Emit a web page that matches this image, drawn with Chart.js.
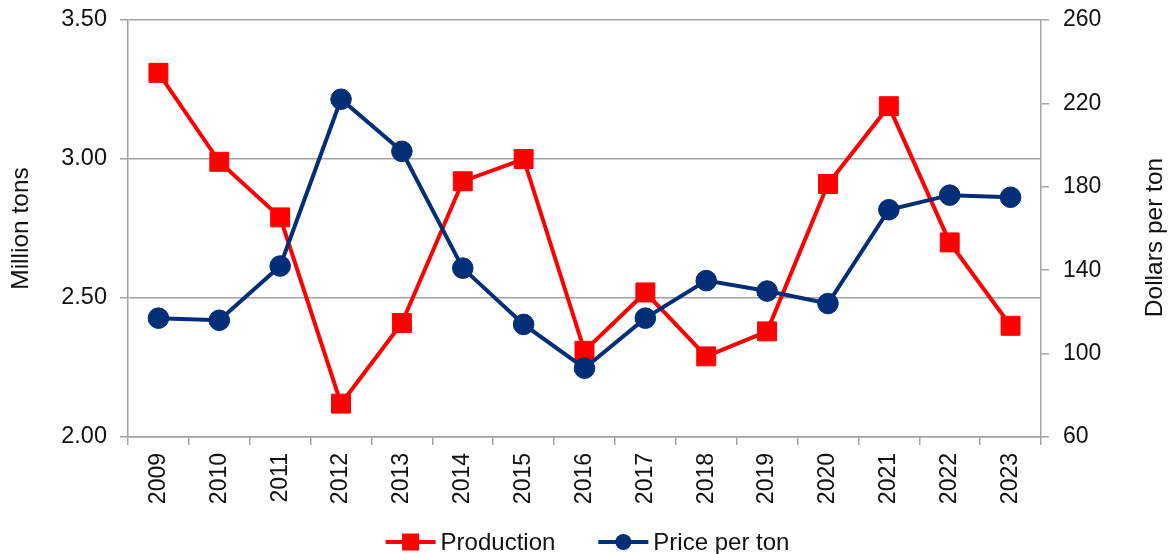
<!DOCTYPE html>
<html>
<head>
<meta charset="utf-8">
<script src="https://cdn.jsdelivr.net/npm/chart.js@4.4.1/dist/chart.umd.min.js"></script>
<style>
    html, body { margin: 0; padding: 0; background: #fff; }
    #wrap { width: 1171px; height: 554px; position: relative; }
</style>
</head>
<body>
<div id="wrap"><canvas id="prodChart"></canvas></div>
<script>
// values
const years = ['2009', '2010', '2011', '2012', '2013', '2014', '2015', '2016', '2017', '2018', '2019', '2020', '2021', '2022', '2023'];
const production = [3.31, 2.99, 2.79, 2.12, 2.41, 2.92, 3.00, 2.31, 2.52, 2.29, 2.38, 2.91, 3.19, 2.70, 2.40];
const pricePerTon = [117, 116, 142, 222, 197, 141, 114, 93, 117, 135, 130, 124, 169, 176, 175];
const leftTicks = [2.0, 2.5, 3.0, 3.5];
const rightTicks = [60, 100, 140, 180, 220, 260];

const RED = '#ff0000';
const NAVY = '#012e77';
const GRID = '#a3a3a3';
const TEXT = '#111111';
const FONT = "'Liberation Sans', Arial, sans-serif";

// legend drawn as line + marker + text, like the spreadsheet original
const lineLegend = {
    id: 'lineLegend',
    afterDraw(chart) {
        const ctx = chart.ctx;
        const items = [
            { text: 'Production', color: RED, marker: 'rect' },
            { text: 'Price per ton', color: NAVY, marker: 'circle' }
        ];
        const lineLen = 50, gapText = 5, gapItem = 43;
        ctx.save();
        ctx.font = '24px ' + FONT;
        let total = 0;
        items.forEach((it, i) => {
            it.w = ctx.measureText(it.text).width;
            total += lineLen + gapText + it.w + (i > 0 ? gapItem : 0);
        });
        let x = chart.width / 2 - total / 2 + 2;
        const y = chart.height - 12;
        items.forEach(it => {
            ctx.strokeStyle = it.color;
            ctx.lineWidth = 4;
            ctx.beginPath();
            ctx.moveTo(x, y);
            ctx.lineTo(x + lineLen, y);
            ctx.stroke();
            ctx.fillStyle = it.color;
            const cx = x + lineLen / 2;
            if (it.marker === 'rect') {
                ctx.fillRect(cx - 8.5, y - 8.5, 17, 17);
            } else {
                ctx.beginPath();
                ctx.arc(cx, y, 8, 0, Math.PI * 2);
                ctx.fill();
            }
            ctx.fillStyle = TEXT;
            ctx.textBaseline = 'middle';
            ctx.textAlign = 'left';
            ctx.fillText(it.text, x + lineLen + gapText, y + 1);
            x += lineLen + gapText + it.w + gapItem;
        });
        ctx.restore();
    }
};

// right axis title reads bottom-to-top in the original, Chart.js would turn it the other way
const rightTitle = {
    id: 'rightTitle',
    afterDraw(chart) {
        const ctx = chart.ctx;
        const area = chart.chartArea;
        ctx.save();
        ctx.translate(chart.width - 16, (area.top + area.bottom) / 2 + 9);
        ctx.rotate(-Math.PI / 2);
        ctx.font = '24.5px ' + FONT;
        ctx.fillStyle = TEXT;
        ctx.textAlign = 'center';
        ctx.textBaseline = 'middle';
        ctx.fillText('Dollars per ton', 0, 0);
        ctx.restore();
    }
};

document.addEventListener('DOMContentLoaded', () => {
    const ctx = document.getElementById('prodChart').getContext('2d');

    new Chart(ctx, {
        type: 'line',
        data: {
            labels: years,
            datasets: [
                {
                    label: 'Production',
                    data: production,
                    yAxisID: 'y',
                    borderColor: RED,
                    backgroundColor: RED,
                    borderWidth: 4,
                    pointStyle: 'rect',
                    pointRadius: 13.4,
                    pointBorderWidth: 1,
                    pointBackgroundColor: RED,
                    pointBorderColor: RED,
                    tension: 0,
                    order: 2
                },
                {
                    label: 'Price per ton',
                    data: pricePerTon,
                    yAxisID: 'y1',
                    borderColor: NAVY,
                    backgroundColor: NAVY,
                    borderWidth: 4,
                    pointStyle: 'circle',
                    pointRadius: 10.3,
                    pointBorderWidth: 1,
                    pointBackgroundColor: NAVY,
                    pointBorderColor: NAVY,
                    tension: 0,
                    order: 1
                }
            ]
        },
        options: {
            responsive: true,
            maintainAspectRatio: false,
            animation: false,
            events: [],
            layout: { padding: { top: 20, bottom: 37, left: 0, right: 0 } },
            plugins: {
                legend: { display: false },
                tooltip: { enabled: false }
            },
            scales: {
                x: {
                    offset: true,
                    grid: { offset: true, drawOnChartArea: false, color: GRID, tickLength: 8, lineWidth: 1.5 },
                    border: { color: GRID, width: 1.5 },
                    ticks: {
                        minRotation: 90,
                        maxRotation: 90,
                        autoSkip: false,
                        padding: 8,
                        color: TEXT,
                        font: { family: FONT, size: 23 }
                    },
                    afterFit: (scale) => { scale.height = 80; }
                },
                y: {
                    position: 'left',
                    min: leftTicks[0],
                    max: leftTicks[leftTicks.length - 1],
                    afterBuildTicks: (scale) => { scale.ticks = leftTicks.map(v => ({ value: v })); },
                    grid: { color: GRID, tickLength: 8, lineWidth: 1.5 },
                    border: { color: GRID, width: 1.5 },
                    ticks: {
                        padding: 13,
                        color: TEXT,
                        font: { family: FONT, size: 23.5 },
                        callback: (v) => Number(v).toFixed(2)
                    },
                    title: {
                        display: true,
                        text: 'Million tons',
                        color: TEXT,
                        font: { family: FONT, size: 24.5 },
                        padding: { top: 7, bottom: 0 }
                    },
                    afterFit: (scale) => {
                        scale.width = 128;
                        scale.paddingTop = 14;
                        scale.paddingBottom = 14;
                    }
                },
                y1: {
                    position: 'right',
                    min: rightTicks[0],
                    max: rightTicks[rightTicks.length - 1],
                    afterBuildTicks: (scale) => { scale.ticks = rightTicks.map(v => ({ value: v })); },
                    grid: { drawOnChartArea: false, color: GRID, tickLength: 8, lineWidth: 1.5 },
                    border: { color: GRID, width: 1.5 },
                    ticks: {
                        padding: 14,
                        color: TEXT,
                        font: { family: FONT, size: 23 }
                    },
                    afterFit: (scale) => {
                        scale.width = 130;
                        scale.paddingTop = 14;
                        scale.paddingBottom = 14;
                    }
                }
            }
        },
        plugins: [lineLegend, rightTitle]
    });
});
</script>
</body>
</html>
